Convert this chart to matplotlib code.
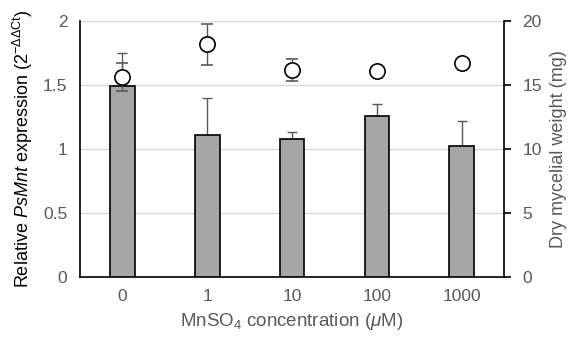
import matplotlib
matplotlib.use('Agg')
import matplotlib.pyplot as plt
import numpy as np

plt.rcParams['font.family'] = ['Liberation Sans', 'DejaVu Sans']
plt.rcParams['mathtext.fontset'] = 'custom'
plt.rcParams['mathtext.rm'] = 'Liberation Sans'
plt.rcParams['mathtext.it'] = 'Liberation Sans:italic'

categories = ['0', '1', '10', '100', '1000']
expression = [1.49, 1.11, 1.08, 1.26, 1.02]
expression_err = [0.26, 0.29, 0.05, 0.09, 0.20]
weight = [15.6, 18.2, 16.2, 16.1, 16.7]
weight_err = [1.1, 1.6, 0.85, 0.3, 0.3]

x = np.arange(len(categories))
grey_txt = '#595959'

fig = plt.figure(figsize=(5.71, 3.47), dpi=100)
ax1 = fig.add_axes([0.14, 0.202, 0.743, 0.737])

ax1.bar(x, expression, width=0.29, color='#a6a6a6', edgecolor='black', linewidth=1.2, zorder=3)
ax1.errorbar(x, expression, yerr=[np.zeros(len(x)), expression_err], fmt='none',
             ecolor='#595959', elinewidth=1, capsize=3.5, capthick=1, zorder=2)
ax1.set_ylim(0, 2)
ax1.set_xlim(-0.5, 4.5)
ax1.set_yticks([0, 0.5, 1, 1.5, 2])
ax1.set_yticklabels(['0', '0.5', '1', '1.5', '2'])
ax1.set_xticks(x)
ax1.set_xticklabels(categories)
ax1.yaxis.grid(True, color='#d9d9d9', linewidth=1, zorder=0)
ax1.set_axisbelow(True)
ax1.tick_params(axis='both', length=0, labelsize=12.5, labelcolor=grey_txt, pad=9)
ax1.spines['top'].set_visible(False)
ax1.spines['right'].set_visible(False)
ax1.spines['left'].set_linewidth(1.2)
ax1.spines['bottom'].set_linewidth(1.2)
ax1.set_ylabel(r'Relative $\mathit{PsMnt}$ expression (2$^{-\Delta\Delta \mathrm{Ct}}$)',
               fontsize=13, color='black', labelpad=6)
ax1.set_xlabel(r'MnSO$_{4}$ concentration ($\mathit{\mu}$M)', fontsize=13.5, color=grey_txt, labelpad=5)

ax2 = ax1.twinx()
ax2.errorbar(x, weight, yerr=weight_err, fmt='o', markersize=11, markerfacecolor='white',
             markeredgecolor='black', markeredgewidth=1.2, ecolor='#595959',
             elinewidth=1, capsize=4, capthick=1, zorder=5)
ax2.set_ylim(0, 20)
ax2.set_yticks([0, 5, 10, 15, 20])
ax2.tick_params(axis='y', direction='out', length=5, width=1.2, labelsize=12.5,
                labelcolor=grey_txt, pad=8)
ax2.spines['top'].set_visible(False)
ax2.spines['left'].set_visible(False)
ax2.spines['bottom'].set_visible(False)
ax2.spines['right'].set_linewidth(1.2)
ax2.set_ylabel('Dry mycelial weight (mg)', fontsize=13, color=grey_txt, labelpad=6)

fig.savefig('out.png', dpi=100)
